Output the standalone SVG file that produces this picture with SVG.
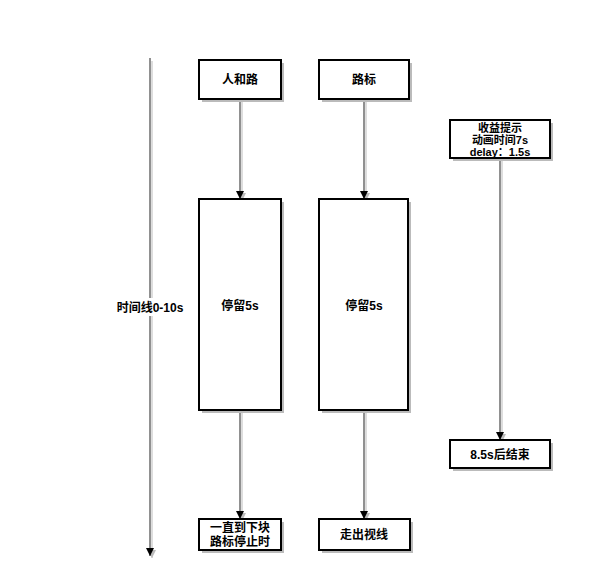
<svg xmlns="http://www.w3.org/2000/svg" width="595" height="582" viewBox="0 0 595 582">
<defs>
<marker id="arr" viewBox="0 0 10 10" refX="10" refY="5" markerWidth="8" markerHeight="8" markerUnits="userSpaceOnUse" orient="auto"><path d="M0,0 L10,5 L0,10 Z" fill="#000"/></marker>
<marker id="arrs" viewBox="0 0 10 10" refX="10" refY="5" markerWidth="8" markerHeight="8" markerUnits="userSpaceOnUse" orient="auto"><path d="M0,0 L10,5 L0,10 Z" fill="#bbb"/></marker>
</defs>
<style>
.box{fill:#fff;stroke:#000;stroke-width:2}
.sh{fill:#bbb}
.t{font-family:"Liberation Sans","Noto Sans CJK SC",sans-serif;font-size:12px;font-weight:bold;fill:#000;text-anchor:middle}
.s{font-size:11px}
.ln{stroke:#222;stroke-width:1;fill:none}
.lns{stroke:#bbb;stroke-width:1;fill:none}
</style>
<rect width="595" height="582" fill="#fff"/>
<g id="connectors">
<line class="lns" x1="152" y1="61" x2="152" y2="558" marker-end="url(#arrs)"/>
<line class="ln" x1="150" y1="58" x2="150" y2="556" marker-end="url(#arr)" stroke="#555"/>
<line class="lns" x1="242" y1="102" x2="242" y2="201" marker-end="url(#arrs)"/>
<line class="ln" x1="240" y1="99" x2="240" y2="199" marker-end="url(#arr)"/>
<line class="lns" x1="366" y1="102" x2="366" y2="201" marker-end="url(#arrs)"/>
<line class="ln" x1="364" y1="99" x2="364" y2="199" marker-end="url(#arr)"/>
<line class="lns" x1="242" y1="413" x2="242" y2="521" marker-end="url(#arrs)"/>
<line class="ln" x1="240" y1="410" x2="240" y2="519" marker-end="url(#arr)"/>
<line class="lns" x1="366" y1="413" x2="366" y2="521" marker-end="url(#arrs)"/>
<line class="ln" x1="364" y1="410" x2="364" y2="519" marker-end="url(#arr)"/>
<line class="lns" x1="502" y1="161" x2="502" y2="442" marker-end="url(#arrs)"/>
<line class="ln" x1="500" y1="159" x2="500" y2="440" marker-end="url(#arr)"/>
<rect x="115" y="298" width="70" height="18" fill="#fff"/>
<text class="t" x="150" y="312">时间线0-10s</text>
</g>
<g id="n1"><rect class="sh" x="202" y="63" width="82" height="39"/><rect class="box" x="199" y="60" width="82" height="39"/><text class="t" x="240" y="84">人和路</text></g>
<g id="n2"><rect class="sh" x="322" y="63" width="90" height="39"/><rect class="box" x="319" y="60" width="90" height="39"/><text class="t" x="364" y="84">路标</text></g>
<g id="n3"><rect class="sh" x="453" y="123" width="100" height="38"/><rect class="box" x="450" y="120" width="100" height="38"/><text class="t s" x="500" y="132">收益提示</text><text class="t s" x="500" y="144">动画时间7s</text><text class="t s" x="500" y="156">delay：1.5s</text></g>
<g id="n4"><rect class="sh" x="202" y="202" width="82" height="211"/><rect class="box" x="199" y="199" width="82" height="211"/><text class="t" x="240" y="310">停留5s</text></g>
<g id="n5"><rect class="sh" x="322" y="202" width="89" height="211"/><rect class="box" x="319" y="199" width="89" height="211"/><text class="t" x="364" y="310">停留5s</text></g>
<g id="n6"><rect class="sh" x="453" y="443" width="100" height="28"/><rect class="box" x="450" y="440" width="100" height="28"/><text class="t" x="500" y="459">8.5s后结束</text></g>
<g id="n7"><rect class="sh" x="202" y="522" width="82" height="31"/><rect class="box" x="199" y="519" width="82" height="31"/><text class="t" x="240" y="532">一直到下块</text><text class="t" x="240" y="546">路标停止时</text></g>
<g id="n8"><rect class="sh" x="322" y="522" width="91" height="31"/><rect class="box" x="319" y="519" width="91" height="31"/><text class="t" x="364" y="539">走出视线</text></g>
</svg>
